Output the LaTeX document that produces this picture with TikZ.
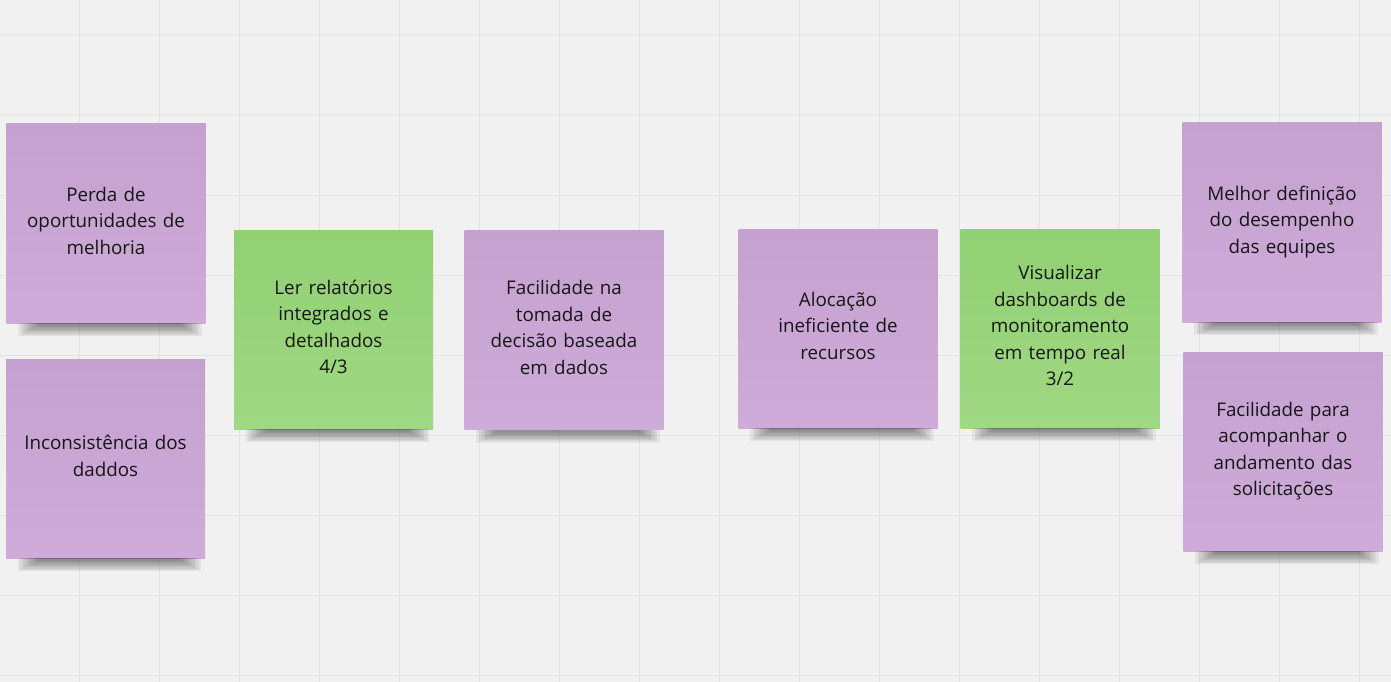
\documentclass[tikz,border=0pt]{standalone}
\usepackage{fontspec}
\setmainfont{Open Sans}
\definecolor{bg}{HTML}{F1F1F1}
\definecolor{gridc}{HTML}{E3E3E3}
\definecolor{purtop}{HTML}{C5A1D0}
\definecolor{purbot}{HTML}{CEABD9}
\definecolor{grntop}{HTML}{91D073}
\definecolor{grnbot}{HTML}{A0D883}
\definecolor{txt}{HTML}{161616}
\tikzset{
  note/.style={minimum width=199pt, minimum height=199pt, inner sep=0pt},
  purplenote/.style={note, top color=purtop, bottom color=purbot},
  greennote/.style={note, top color=grntop, bottom color=grnbot},
  notetext/.style={inner sep=0pt, text width=196pt, align=center, text=txt,
    font=\fontsize{18.8}{26.5}\selectfont,
    execute at begin node=\strut, execute at end node=\strut},
}
\newcommand\noteshadow[1]{%
  \foreach \i in {0,...,8}{%
    \fill[black,opacity=0.055]
      ([xshift=12pt+\i*2.5pt]#1.south west) rectangle
      ([xshift=-4pt-\i*2.5pt,yshift=-13pt+\i*1.3pt]#1.south east);}}
\begin{document}
\begin{tikzpicture}[x=1pt,y=-1pt]
\fill[bg] (0,0) rectangle (1391,682);
\useasboundingbox (0,0) rectangle (1391,682);
\foreach \x in {79,159,...,1391} \draw[gridc,line width=1pt] (\x,0) -- (\x,682);
\foreach \y in {35,115,...,682} \draw[gridc,line width=1pt] (0,\y) -- (1391,\y);

\node[purplenote] (perda) at (106,223.5) {};
\node[purplenote] (incons) at (105.5,458.5) {};
\node[greennote] (ler) at (333.5,329.5) {};
\node[purplenote] (tomada) at (564,330) {};
\node[purplenote] (aloc) at (838,328.5) {};
\node[greennote] (visual) at (1060,328.5) {};
\node[purplenote] (melhor) at (1282,222.5) {};
\node[purplenote] (acomp) at (1283,451.5) {};

\foreach \n in {perda,incons,ler,tomada,aloc,visual,melhor,acomp} {\noteshadow{\n}}

\node[notetext] (perda-t) at ([yshift=1pt]perda.center) {Perda de\\oportunidades de\\melhoria};
\node[notetext] (incons-t) at ([yshift=1pt]incons.center) {Inconsistência dos\\daddos};
\node[notetext] (ler-t) at ([yshift=1pt]ler.center) {Ler relatórios\\integrados e\\detalhados\\4/3};
\node[notetext] (tomada-t) at ([yshift=1pt]tomada.center) {Facilidade na\\tomada de\\decisão baseada\\em dados};
\node[notetext] (aloc-t) at ([yshift=1pt]aloc.center) {Alocação\\ineficiente de\\recursos};
\node[notetext] (visual-t) at ([yshift=1pt]visual.center) {Visualizar\\dashboards de\\monitoramento\\em tempo real\\3/2};
\node[notetext] (melhor-t) at ([yshift=1pt]melhor.center) {Melhor definição\\do desempenho\\das equipes};
\node[notetext] (acomp-t) at ([yshift=1pt]acomp.center) {Facilidade para\\acompanhar o\\andamento das\\solicitações};
\end{tikzpicture}
\end{document}
